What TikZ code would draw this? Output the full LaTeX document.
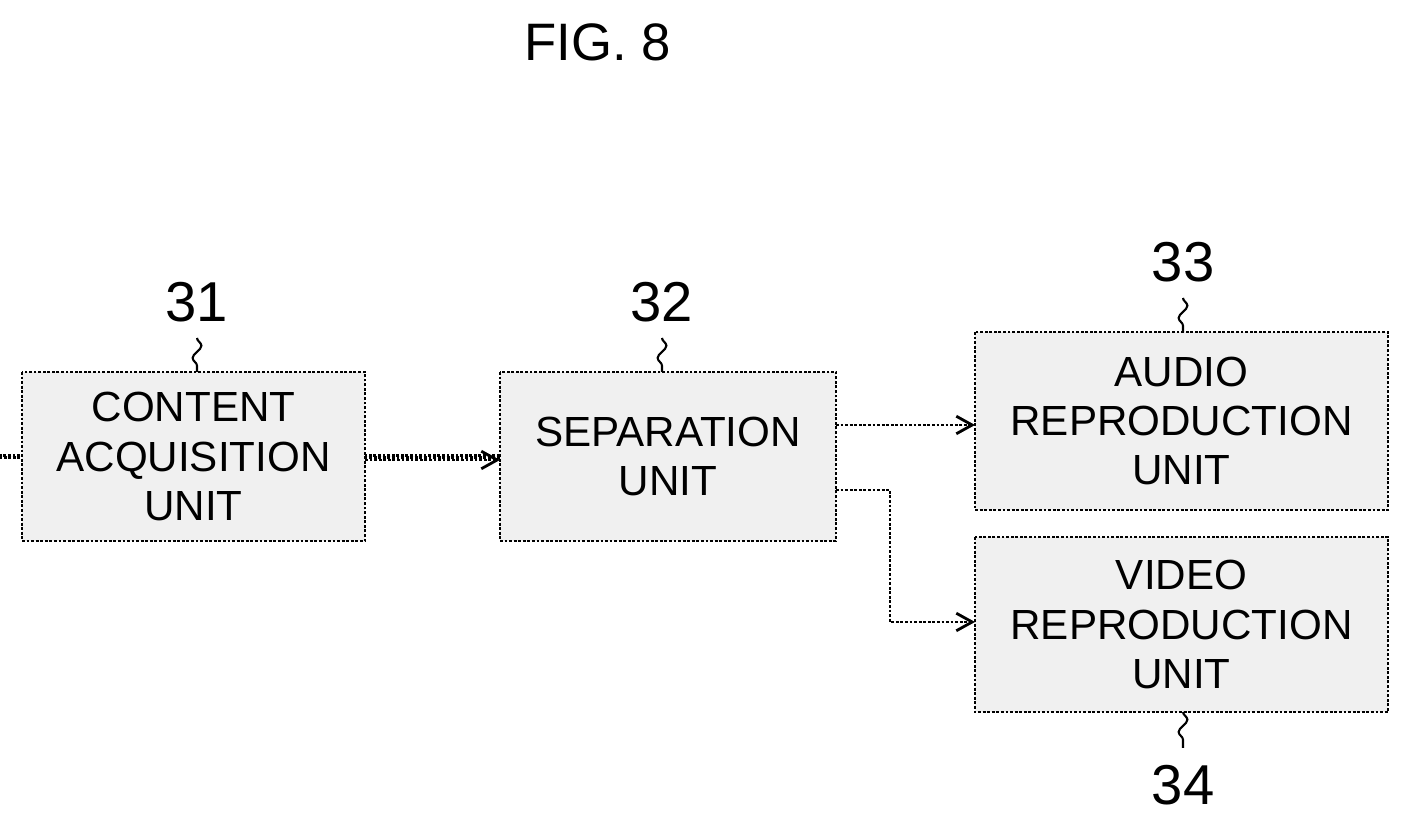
\documentclass[tikz,border=0pt]{standalone}
\usepackage{fontspec}
\setmainfont{Liberation Sans}
\usetikzlibrary{arrows.meta,decorations.pathmorphing}
\begin{document}
\begin{tikzpicture}[x=0.02cm,y=-0.02cm,
 box/.style={draw,line width=1.6pt,densely dotted,fill=black!6,inner sep=0pt,align=center,font=\fontsize{24}{28}\selectfont},
 arr/.style={line width=1.6pt,densely dotted,-{Straight Barb[length=9pt,width=10pt]}},
 lab/.style={font=\fontsize{32}{34}\selectfont},
 sq/.style={line width=1.2pt,decorate,decoration={snake,amplitude=2.5pt,segment length=14pt}}]
\useasboundingbox (0,0) rectangle (1410,830);
\node[font=\fontsize{30}{32}\selectfont] (title) at (598,42) {FIG. 8};
\node[box,minimum width=343\pgflinewidth] (b31) at (193.5,456.5) {};
\path (22,372) coordinate (a1) (365,541) coordinate (a2);
\draw[line width=1.6pt,densely dotted,fill=black!6] (22,372) rectangle (365,541);
\node[font=\fontsize{24}{28}\selectfont,align=center] (t31) at (193.5,456.5) {CONTENT\\ACQUISITION\\UNIT};
\draw[line width=1.6pt,densely dotted,fill=black!6] (500,372) rectangle (836,541);
\node[font=\fontsize{24}{28}\selectfont,align=center] (t32) at (668,456.5) {SEPARATION\\UNIT};
\draw[line width=1.6pt,densely dotted,fill=black!6] (975,332) rectangle (1388,510);
\node[font=\fontsize{24}{28}\selectfont,align=center] (t33) at (1181.5,421) {AUDIO\\REPRODUCTION\\UNIT};
\draw[line width=1.6pt,densely dotted,fill=black!6] (975,537) rectangle (1388,712);
\node[font=\fontsize{24}{28}\selectfont,align=center] (t34) at (1181.5,624.5) {VIDEO\\REPRODUCTION\\UNIT};
\node[lab] (l31) at (197,302) {31};
\node[lab] (l32) at (662,302) {32};
\node[lab] (l33) at (1183,262) {33};
\node[lab] (l34) at (1183,785) {34};
\draw[sq] (197,338) -- (197,372);
\draw[sq] (662,338) -- (662,372);
\draw[sq] (1183,298) -- (1183,332);
\draw[sq] (1183,712) -- (1183,748);
\coordinate (p1) at (365,460); \coordinate (p2) at (500,460);
\draw[arr] (p1) -- (p2);
\coordinate (p3) at (836,425); \coordinate (p4) at (975,425);
\draw[arr] (p3) -- (p4);
\coordinate (p5) at (836,490); \coordinate (p6) at (975,622);
\draw[arr] (p5) -- (890,490) -- (890,622) -- (p6);
\end{tikzpicture}
\end{document}
